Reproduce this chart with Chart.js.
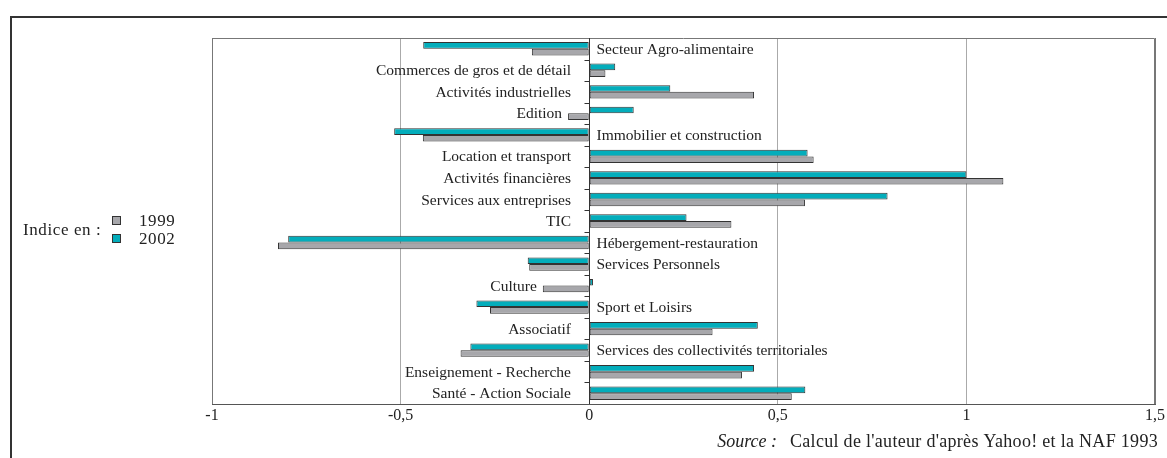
<!DOCTYPE html>
<html>
<head>
<meta charset="utf-8">
<script src="https://cdn.jsdelivr.net/npm/chart.js@4.4.0/dist/chart.umd.min.js"></script>
<style>
  html, body { margin: 0; padding: 0; background: #fff; }
  #wrap { position: relative; width: 1167px; height: 458px; }
  #frame { position: absolute; left: 10px; top: 16px; width: 1200px; height: 500px;
           border-left: 2px solid #333; border-top: 2px solid #333; }
</style>
</head>
<body>
<div id="wrap">
  <div id="frame"></div>
  <canvas id="barChart" width="1167" height="458"></canvas>
</div>
<script>
// secteurs (ordre du haut vers le bas)
var secteurs = [
  'Secteur Agro-alimentaire', 'Commerces de gros et de détail', 'Activités industrielles',
  'Edition', 'Immobilier et construction', 'Location et transport', 'Activités financières',
  'Services aux entreprises', 'TIC', 'Hébergement-restauration', 'Services Personnels',
  'Culture', 'Sport et Loisirs', 'Associatif', 'Services des collectivités territoriales',
  'Enseignement - Recherche', 'Santé - Action Sociale'
];
var indice2002 = [-0.44, 0.069, 0.215, 0.118, -0.517, 0.579, 1.0, 0.791, 0.258, -0.798,
  -0.163, 0.01, -0.299, 0.447, -0.315, 0.437, 0.573];
var indice1999 = [-0.152, 0.043, 0.437, -0.056, -0.441, 0.595, 1.098, 0.572, 0.377, -0.825,
  -0.159, -0.123, -0.263, 0.327, -0.341, 0.405, 0.537];
var xTicks = [-1, -0.5, 0, 0.5, 1, 1.5];

var serif = '"Liberation Serif", "Times New Roman", serif';
var cyan = '#03adbb';
var gris = '#a7a7ab';

//- plugin : cadre, axe du zéro, libellés, légende et source -
var decor = {
  id: 'decor',
  beforeDatasetsDraw: function (chart) {
    var ctx = chart.ctx, a = chart.chartArea;
    ctx.save();
    ctx.strokeStyle = '#777';
    ctx.lineWidth = 1;
    ctx.beginPath();
    ctx.moveTo(a.left + 0.5, a.bottom);
    ctx.lineTo(a.left + 0.5, a.top + 0.5);
    ctx.lineTo(a.right - 0.5, a.top + 0.5);
    ctx.lineTo(a.right - 0.5, a.bottom);
    ctx.stroke();
    ctx.restore();
  },
  afterDatasetsDraw: function (chart) {
    var ctx = chart.ctx, a = chart.chartArea;
    var x = chart.scales.x, y = chart.scales.y;
    var x0 = Math.round(x.getPixelForValue(0)) + 0.5;
    ctx.save();
    // axe du zéro et graduations
    ctx.strokeStyle = '#333';
    ctx.lineWidth = 1;
    ctx.beginPath();
    ctx.moveTo(x0, a.top);
    ctx.lineTo(x0, a.bottom);
    var band = (a.bottom - a.top) / secteurs.length;
    for (var i = 1; i < secteurs.length; i++) {
      var yy = Math.round(a.top + band * i) + 0.5;
      ctx.moveTo(x0 - 5, yy);
      ctx.lineTo(x0, yy);
    }
    ctx.stroke();

    // libellés des secteurs
    ctx.fillStyle = '#222';
    ctx.font = '15.5px ' + serif;
    ctx.textBaseline = 'middle';
    secteurs.forEach(function (s, i) {
      var yc = y.getPixelForValue(i) + 1;
      if (indice2002[i] < 0) {
        ctx.textAlign = 'left';
        ctx.fillText(s, x0 + 7, yc);
      } else {
        var minV = Math.min(0, indice1999[i]);
        var edge = Math.min(571, x.getPixelForValue(minV) - 6);
        ctx.textAlign = 'right';
        ctx.fillText(s, edge, yc);
      }
    });

    // légende
    ctx.textAlign = 'left';
    ctx.font = '17px ' + serif;
    ctx.letterSpacing = '0.6px';
    ctx.fillText('Indice en :', 23, 231);
    ctx.fillText('1999', 139, 222);
    ctx.fillText('2002', 139, 240);
    ctx.letterSpacing = '0px';
    ctx.strokeStyle = '#333';
    ctx.fillStyle = gris;
    ctx.fillRect(112.5, 216.5, 8, 8);
    ctx.strokeRect(112.5, 216.5, 8, 8);
    ctx.fillStyle = cyan;
    ctx.fillRect(112.5, 234.5, 8, 8);
    ctx.strokeRect(112.5, 234.5, 8, 8);

    // source
    ctx.fillStyle = '#222';
    ctx.font = 'italic 18px ' + serif;
    ctx.textAlign = 'right';
    ctx.fillText('Source :', 777, 442);
    ctx.font = '18px ' + serif;
    ctx.letterSpacing = '0.3px';
    ctx.textAlign = 'left';
    ctx.fillText("Calcul de l'auteur d'après Yahoo! et la NAF 1993", 790, 442);
    ctx.restore();
  }
};

var barChartData = {
  labels: secteurs,
  datasets: [
    {
      label: '2002',
      data: indice2002,
      backgroundColor: cyan,
      borderColor: '#333',
      borderWidth: 1,
      borderSkipped: false,
      categoryPercentage: 0.62,
      barPercentage: 1.0
    },
    {
      label: '1999',
      data: indice1999,
      backgroundColor: gris,
      borderColor: '#333',
      borderWidth: 1,
      borderSkipped: false,
      categoryPercentage: 0.62,
      barPercentage: 1.0
    }
  ]
};

var barChartOptions = {
  indexAxis: 'y',
  responsive: false,
  animation: false,
  devicePixelRatio: 1,
  layout: { padding: { left: 212, right: 12, top: 38, bottom: 34 } },
  plugins: { legend: { display: false }, tooltip: { enabled: false } },
  scales: {
    x: {
      min: -1,
      max: 1.5,
      afterBuildTicks: function (s) { s.ticks = xTicks.map(function (v) { return { value: v }; }); },
      afterFit: function (s) { s.height = 20; },
      grid: {
        drawTicks: false,
        color: function (c) {
          var v = c.tick ? c.tick.value : null;
          if (v === 0) return 'rgba(0,0,0,0)';
          if (v === -1 || v === 1.5) return '#777';
          return '#aaa';
        }
      },
      border: { color: '#555', width: 1 },
      ticks: {
        padding: 2,
        color: '#222',
        font: { family: serif, size: 16 },
        callback: function (v) { return String(v).replace('.', ','); }
      }
    },
    y: {
      display: false,
      offset: true,
      grid: { display: false }
    }
  }
};

new Chart(document.getElementById('barChart').getContext('2d'), {
  type: 'bar',
  data: barChartData,
  options: barChartOptions,
  plugins: [decor]
});
</script>
</body>
</html>
